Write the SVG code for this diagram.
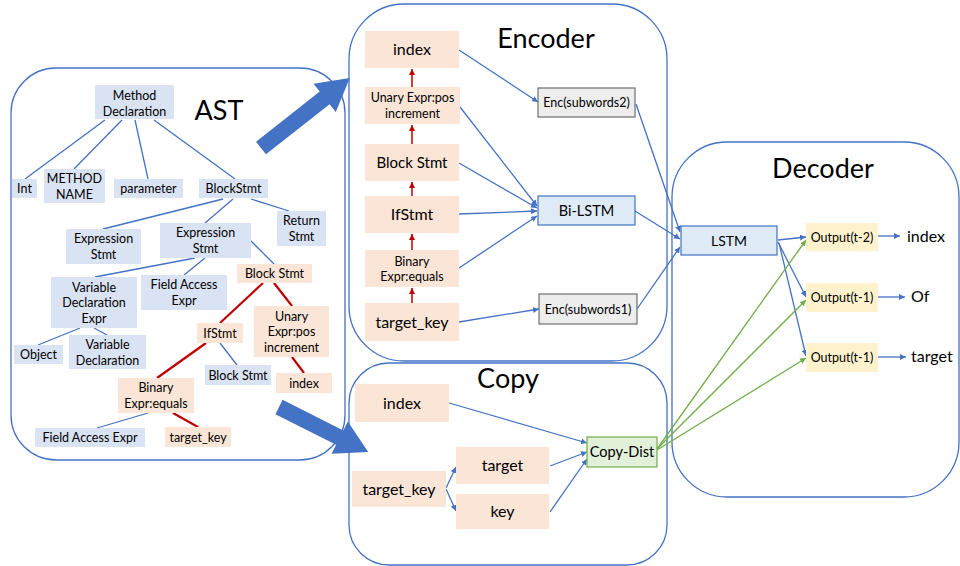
<svg xmlns="http://www.w3.org/2000/svg" width="960" height="566" viewBox="0 0 960 566">
<defs>
<style>
text{font-family:Lato,"Liberation Sans",sans-serif;fill:#000;text-anchor:middle}
.panel{fill:#fff;stroke:#4472c4;stroke-width:1.3}
.b{fill:#dae3f3}
.p{fill:#fbe5d6}
.y{fill:#fff2cc}
.g{fill:#ededed;stroke:#6f6f6f;stroke-width:1.2}
.lb{fill:#deebf7;stroke:#4472c4;stroke-width:1.2}
.gr{fill:#e2f0d9;stroke:#70ad47;stroke-width:1.2}
.s{font-size:12.5px}
.m{font-size:16px}
.t{font-size:27px}
.e{stroke:#4472c4;stroke-width:1.3;fill:none}
.r{stroke:#c00000;stroke-width:2.2;fill:none}
.ea{stroke:#4472c4;stroke-width:1.3;fill:none;marker-end:url(#ab)}
.ra{stroke:#c00000;stroke-width:1.5;fill:none;marker-end:url(#ar)}
.ga{stroke:#70ad47;stroke-width:1.3;fill:none;marker-end:url(#ag)}
.big{fill:#4472c4}
</style>
<marker id="ab" markerUnits="userSpaceOnUse" markerWidth="6" markerHeight="6" refX="6" refY="3" orient="auto"><path d="M0,0 L6,3 L0,6 Z" fill="#4472c4"/></marker>
<marker id="ar" markerUnits="userSpaceOnUse" markerWidth="6" markerHeight="6" refX="6" refY="3" orient="auto"><path d="M0,0 L6,3 L0,6 Z" fill="#c00000"/></marker>
<marker id="ag" markerUnits="userSpaceOnUse" markerWidth="6" markerHeight="6" refX="6" refY="3" orient="auto"><path d="M0,0 L6,3 L0,6 Z" fill="#70ad47"/></marker>
</defs>
<rect width="960" height="566" fill="#fff"/>

<g id="panels">
<rect class="panel" x="11" y="68" width="334" height="392" rx="45"/>
<rect class="panel" x="349" y="4" width="318" height="357" rx="55"/>
<rect class="panel" x="349" y="363" width="318" height="202" rx="40"/>
<rect class="panel" x="672" y="142" width="287" height="355" rx="55"/>
<text class="t" x="219" y="120">AST</text>
<text class="t" x="546" y="48">Encoder</text>
<text class="t" x="508" y="388">Copy</text>
<text class="t" x="823" y="178">Decoder</text>
</g>

<g id="connectors">
<!-- AST tree -->
<line class="e" x1="105" y1="120" x2="25" y2="179"/>
<line class="e" x1="122" y1="120" x2="74" y2="169"/>
<line class="e" x1="135" y1="120" x2="148" y2="179"/>
<line class="e" x1="154" y1="120" x2="235" y2="179"/>
<line class="e" x1="223" y1="199" x2="103" y2="229"/>
<line class="e" x1="233" y1="199" x2="205" y2="223"/>
<line class="e" x1="251" y1="199" x2="289" y2="211"/>
<line class="e" x1="195" y1="258" x2="95" y2="277"/>
<line class="e" x1="205" y1="258" x2="184" y2="275"/>
<line class="e" x1="251" y1="241" x2="274" y2="264"/>
<line class="e" x1="80" y1="328" x2="38" y2="345"/>
<line class="e" x1="94" y1="328" x2="107" y2="335"/>
<line class="e" x1="220" y1="343" x2="237" y2="365"/>
<line class="e" x1="148" y1="413" x2="97" y2="428"/>
<line class="r" x1="263" y1="283" x2="220" y2="323"/>
<line class="r" x1="274" y1="283" x2="292" y2="306"/>
<line class="r" x1="206" y1="343" x2="157" y2="378"/>
<line class="r" x1="292" y1="357" x2="304" y2="373"/>
<line class="r" x1="173" y1="413" x2="198" y2="427"/>
<!-- Encoder -->
<line class="ra" x1="412" y1="87" x2="412" y2="69"/>
<line class="ra" x1="412" y1="144" x2="412" y2="125"/>
<line class="ra" x1="412" y1="196" x2="412" y2="182"/>
<line class="ra" x1="412" y1="250" x2="412" y2="234"/>
<line class="ra" x1="412" y1="303" x2="412" y2="288"/>
<line class="ea" x1="459" y1="50" x2="538" y2="102"/>
<line class="ea" x1="460" y1="107" x2="537" y2="206"/>
<line class="ea" x1="459" y1="163" x2="537" y2="208"/>
<line class="ea" x1="459" y1="214" x2="537" y2="211"/>
<line class="ea" x1="459" y1="268" x2="537" y2="216"/>
<line class="ea" x1="459" y1="322" x2="539" y2="309"/>
<line class="ea" x1="636" y1="104" x2="680" y2="232"/>
<line class="ea" x1="635" y1="211" x2="680" y2="239"/>
<line class="ea" x1="637" y1="309" x2="680" y2="247"/>
<!-- Copy -->
<line class="ea" x1="449" y1="403" x2="587" y2="443"/>
<line class="ea" x1="550" y1="466" x2="587" y2="452"/>
<line class="ea" x1="550" y1="512" x2="587" y2="459"/>
<line class="ea" x1="446" y1="488" x2="456" y2="467"/>
<line class="ea" x1="446" y1="489" x2="456" y2="511"/>
<!-- Decoder -->
<line class="ea" x1="778" y1="240" x2="806" y2="237"/>
<line class="ea" x1="778" y1="242" x2="806" y2="297"/>
<line class="ea" x1="779" y1="243" x2="806" y2="356"/>
<line class="ga" x1="657" y1="449" x2="806" y2="240"/>
<line class="ga" x1="657" y1="449" x2="806" y2="300"/>
<line class="ga" x1="657" y1="450" x2="806" y2="358"/>
<line class="ea" x1="878" y1="236" x2="900" y2="236"/>
<line class="ea" x1="878" y1="297" x2="905" y2="297"/>
<line class="ea" x1="878" y1="357" x2="906" y2="357"/>
</g>

<g id="big-arrows">
<path class="big" d="M0,-8 H81 V-18 L113,0 L81,18 V8 H0 Z" transform="translate(261,148) rotate(-38.2)"/>
<path class="big" d="M0,-8 H68 V-18 L100,0 L68,18 V8 H0 Z" transform="translate(279,407) rotate(26.8)"/>
</g>

<!-- AST nodes -->
<g id="ast-method-declaration"><rect class="b" x="95" y="85" width="79" height="34"/><text class="s" x="134.5" y="100">Method</text><text class="s" x="134.5" y="116">Declaration</text></g>
<g id="ast-int"><rect class="b" x="12" y="179" width="25" height="19"/><text class="s" x="24.5" y="193">Int</text></g>
<g id="ast-method-name"><rect class="b" x="44" y="169" width="61" height="34"/><text class="s" x="74.5" y="183">METHOD</text><text class="s" x="74.5" y="199">NAME</text></g>
<g id="ast-parameter"><rect class="b" x="114" y="179" width="69" height="19"/><text class="s" x="148.5" y="193">parameter</text></g>
<g id="ast-blockstmt"><rect class="b" x="199" y="179" width="69" height="19"/><text class="s" x="233.5" y="193">BlockStmt</text></g>
<g id="ast-return-stmt"><rect class="b" x="277" y="211" width="49" height="35"/><text class="s" x="301.5" y="225">Return</text><text class="s" x="301.5" y="241">Stmt</text></g>
<g id="ast-expression-stmt-1"><rect class="b" x="66" y="229" width="75" height="35"/><text class="s" x="103.5" y="243">Expression</text><text class="s" x="103.5" y="259">Stmt</text></g>
<g id="ast-expression-stmt-2"><rect class="b" x="160" y="223" width="91" height="35"/><text class="s" x="205.5" y="237">Expression</text><text class="s" x="205.5" y="253">Stmt</text></g>
<g id="ast-block-stmt-red"><rect class="p" x="237" y="264" width="75" height="19"/><text class="s" x="274.5" y="278">Block Stmt</text></g>
<g id="ast-variable-declaration-expr"><rect class="b" x="51" y="277" width="86" height="51"/><text class="s" x="94" y="291.5">Variable</text><text class="s" x="94" y="307">Declaration</text><text class="s" x="94" y="322.5">Expr</text></g>
<g id="ast-field-access-expr-1"><rect class="b" x="141" y="275" width="86" height="35"/><text class="s" x="184" y="289">Field Access</text><text class="s" x="184" y="305">Expr</text></g>
<g id="ast-ifstmt"><rect class="p" x="197" y="323" width="46" height="20"/><text class="s" x="220" y="337.5">IfStmt</text></g>
<g id="ast-unary-expr"><rect class="p" x="254" y="306" width="75" height="51"/><text class="s" x="291.5" y="320.5">Unary</text><text class="s" x="291.5" y="336">Expr:pos</text><text class="s" x="291.5" y="351.5">increment</text></g>
<g id="ast-object"><rect class="b" x="14" y="345" width="49" height="19"/><text class="s" x="38.5" y="359">Object</text></g>
<g id="ast-variable-declaration"><rect class="b" x="69" y="335" width="77" height="34"/><text class="s" x="107.5" y="349">Variable</text><text class="s" x="107.5" y="365">Declaration</text></g>
<g id="ast-block-stmt-blue"><rect class="b" x="205" y="365" width="66" height="20"/><text class="s" x="238" y="379.5">Block Stmt</text></g>
<g id="ast-index"><rect class="p" x="276" y="373" width="56" height="20"/><text class="s" x="304" y="387.5">index</text></g>
<g id="ast-binary-expr"><rect class="p" x="118" y="378" width="76" height="35"/><text class="s" x="156" y="392">Binary</text><text class="s" x="156" y="408">Expr:equals</text></g>
<g id="ast-field-access-expr-2"><rect class="b" x="35" y="428" width="110" height="19"/><text class="s" x="90" y="442">Field Access Expr</text></g>
<g id="ast-target-key"><rect class="p" x="165" y="427" width="66" height="20"/><text class="s" x="198" y="441.5">target_key</text></g>

<!-- Encoder nodes -->
<g id="enc-index"><rect class="p" x="365" y="31" width="94" height="37"/><text class="m" x="412" y="55">index</text></g>
<g id="enc-unary"><rect class="p" x="365" y="87" width="95" height="37"/><text class="s" x="412.5" y="102">Unary Expr:pos</text><text class="s" x="412.5" y="118">increment</text></g>
<g id="enc-block-stmt"><rect class="p" x="365" y="144" width="94" height="37"/><text x="412" y="167.5" style="font-size:15px">Block Stmt</text></g>
<g id="enc-ifstmt"><rect class="p" x="365" y="196" width="94" height="37"/><text class="m" x="412" y="220">IfStmt</text></g>
<g id="enc-binary"><rect class="p" x="365" y="250" width="94" height="37"/><text class="s" x="412" y="265.5">Binary</text><text class="s" x="412" y="280.5">Expr:equals</text></g>
<g id="enc-target-key"><rect class="p" x="365" y="303" width="94" height="38"/><text class="m" x="412" y="327.5">target_key</text></g>
<g id="enc-subwords2"><rect class="g" x="538" y="88" width="97" height="29"/><text class="s" x="586.5" y="107">Enc(subwords2)</text></g>
<g id="enc-bilstm"><rect class="lb" x="538" y="196" width="97" height="29"/><text x="586.5" y="215.5" style="font-size:14.5px">Bi-LSTM</text></g>
<g id="enc-subwords1"><rect class="g" x="539" y="294" width="98" height="30"/><text class="s" x="588" y="313.5">Enc(subwords1)</text></g>

<!-- Copy nodes -->
<g id="copy-index"><rect class="p" x="355" y="384" width="94" height="38"/><text class="m" x="402" y="408.5">index</text></g>
<g id="copy-target-key"><rect class="p" x="352" y="471" width="94" height="36"/><text class="m" x="399" y="494.5">target_key</text></g>
<g id="copy-target"><rect class="p" x="456" y="447" width="93" height="37"/><text class="m" x="502.5" y="471">target</text></g>
<g id="copy-key"><rect class="p" x="456" y="494" width="93" height="35"/><text class="m" x="502.5" y="517">key</text></g>
<g id="copy-dist"><rect class="gr" x="587" y="437" width="70" height="30"/><text x="622" y="457" style="font-size:14.5px">Copy-Dist</text></g>

<!-- Decoder nodes -->
<g id="dec-lstm"><rect class="lb" x="681" y="226" width="96" height="29"/><text x="729" y="245.5" style="font-size:14px">LSTM</text></g>
<g id="dec-output-t2"><rect class="y" x="806" y="223" width="72" height="28"/><text class="s" x="842" y="241.5">Output(t-2)</text></g>
<g id="dec-output-t1a"><rect class="y" x="806" y="283" width="72" height="29"/><text class="s" x="842" y="302">Output(t-1)</text></g>
<g id="dec-output-t1b"><rect class="y" x="806" y="343" width="72" height="29"/><text class="s" x="842" y="362">Output(t-1)</text></g>
<g id="dec-labels">
<text class="m" x="907" y="242" style="text-anchor:start">index</text>
<text class="m" x="911" y="302" style="text-anchor:start">Of</text>
<text class="m" x="911" y="362" style="text-anchor:start">target</text>
</g>
</svg>
